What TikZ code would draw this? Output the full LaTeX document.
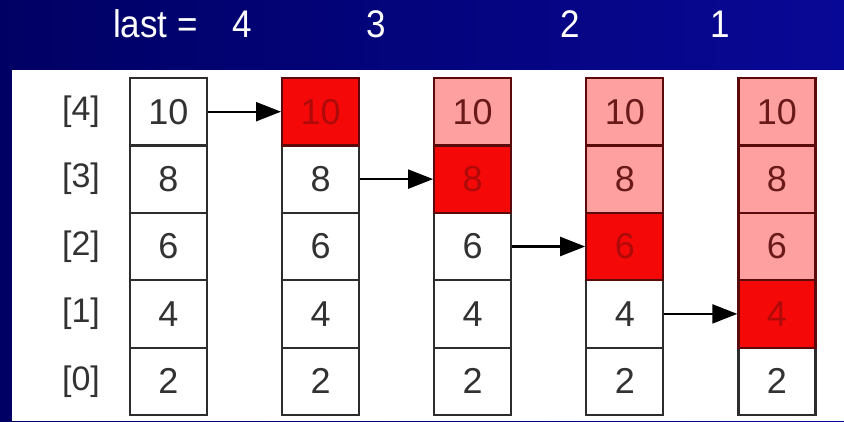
\documentclass[tikz,border=0pt]{standalone}
\usepackage{fontspec}
\setmainfont{Liberation Sans}
\usetikzlibrary{arrows.meta}

\definecolor{navyL}{RGB}{0,0,100}
\definecolor{navyR}{RGB}{8,8,150}
\definecolor{cellred}{RGB}{245,8,8}
\definecolor{cellpink}{RGB}{255,160,160}
\definecolor{txtgray}{RGB}{50,50,50}
\definecolor{txtred}{RGB}{175,10,10}
\definecolor{txtpink}{RGB}{105,25,25}
\definecolor{edgegray}{RGB}{45,45,45}
\definecolor{edgered}{RGB}{90,10,10}

\tikzset{
  cell/.style={draw, line width=2.2pt, minimum width=77pt, minimum height=67.4pt,
    inner sep=0pt, font=\fontsize{36}{36}\selectfont},
  whitecell/.style={cell, fill=white, draw=edgegray, text=txtgray},
  pinkcell/.style={cell, fill=cellpink, draw=edgered, text=txtpink},
  redcell/.style={cell, fill=cellred, draw=edgered, text=txtred},
  idx/.style={text=txtgray, font=\fontsize{34}{34}\selectfont, inner sep=0pt},
  toptext/.style={text=white, font=\fontsize{35}{35}\selectfont, inner sep=0pt,
    yscale=1.1},
  arr/.style={line width=2.2pt, -{Triangle[length=25pt,width=19pt]}}
}

\begin{document}
\begin{tikzpicture}[x=1pt,y=-1pt]
  \useasboundingbox (0,0) rectangle (844,421);
  % blue slide background and white panel
  \shade[left color=navyL, right color=navyR] (0,0) rectangle (844,421);
  \fill[white] (12,70) rectangle (844,421);

  % header: value of last for each column
  \node[toptext, anchor=west] (lastlbl) at (113,24) {last =};
  \node[toptext] (l4) at (242,24) {4};
  \node[toptext] (l3) at (376,24) {3};
  \node[toptext] (l2) at (570,24) {2};
  \node[toptext] (l1) at (720,24) {1};

  % array indices
  \foreach \r in {0,...,4}
    \node[idx] (i\r) at (81,{381.3-67.4*\r}) {[\r]};

  % the five array snapshots
  \foreach \c/\red in {1/9,2/4,3/3,4/2,5/1}{
    \foreach \r in {0,...,4}{
      \ifnum\r=\red \def\st{redcell}\else
        \ifnum\r>\red \def\st{pinkcell}\else \def\st{whitecell}\fi\fi
      \pgfmathtruncatemacro{\v}{2*\r+2}
      \node[\st] (c-\c-\r) at ({168.5+152.1*(\c-1)},{381.3-67.4*\r}) {\v};
    }
  }

  % moves of the largest remaining element
  \draw[arr] (c-1-4.east) -- (c-2-4.west);
  \draw[arr] (c-2-3.east) -- (c-3-3.west);
  \draw[arr] (c-3-2.east) -- (c-4-2.west);
  \draw[arr] (c-4-1.east) -- (c-5-1.west);
\end{tikzpicture}
\end{document}
